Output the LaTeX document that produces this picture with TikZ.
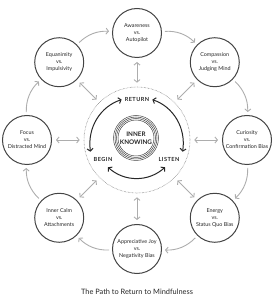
\documentclass[tikz,border=0pt]{standalone}
\usepackage{fontspec}
\setmainfont{Lato}
\usetikzlibrary{arrows.meta, positioning}
\definecolor{ringgray}{HTML}{444444}
\definecolor{linkgray}{HTML}{ADADAD}
\definecolor{inkdark}{HTML}{262626}

\begin{document}
\begin{tikzpicture}[
  x=1pt, y=1pt,
  every node/.style={font=\fontsize{5.4}{7}\selectfont, text=inkdark},
  stage/.style={draw=ringgray, line width=1pt, circle, minimum size=49pt, inner sep=0pt, align=center},
  flow/.style={draw=linkgray, line width=0.9pt, -{Straight Barb[length=2.5pt,width=6pt]}, shorten >=3pt, shorten <=3pt},
  link/.style={draw=linkgray, line width=0.9pt, {Straight Barb[length=2.5pt,width=6pt]}-{Straight Barb[length=2.5pt,width=6pt]}, shorten >=4pt, shorten <=4pt},
  cycle/.style={draw=inkdark, line width=1pt, {Straight Barb[length=2.5pt,width=6pt]}-{Straight Barb[length=2.5pt,width=6pt]}},
  phase/.style={font=\fontsize{5.6}{7}\selectfont\bfseries\addfontfeatures{LetterSpace=8}, inner sep=1pt}
]
\useasboundingbox (0,0) rectangle (274,300);
\coordinate (c) at (137,160);

% Outer stages
\node[stage] (aw) at ([shift={(90:107)}]c) {Awareness\\vs.\\Autopilot};
\node[stage] (co) at ([shift={(45:110)}]c) {Compassion\\vs.\\Judging Mind};
\node[stage] (cu) at ([shift={(0:110)}]c) {Curiosity\\vs.\\Confirmation Bias};
\node[stage] (en) at ([shift={(-45:110)}]c) {Energy\\vs.\\Status Quo Bias};
\node[stage] (aj) at ([shift={(-90:109)}]c) {Appreciative Joy\\vs.\\Negativity Bias};
\node[stage] (ic) at ([shift={(-135:110)}]c) {Inner Calm\\vs.\\Attachments};
\node[stage] (fo) at ([shift={(180:110)}]c) {Focus\\vs.\\Distracted Mind};
\node[stage] (eq) at ([shift={(135:110)}]c) {Equanimity\\vs.\\Impulsivity};

% Centre
\node[circle, draw=gray, line width=0.6pt, dash pattern=on 0.5pt off 0.9pt, minimum size=106pt] (ring) at (c) {};
\node[circle, draw=ringgray, line width=0.5pt, minimum size=36pt, inner sep=0pt, align=center,
  font=\fontsize{6.3}{8}\selectfont\bfseries] (ik) at ([shift={(-1,2)}]c) {INNER\\KNOWING};
\foreach \r in {19.5,21,22.5}
  \draw[ringgray, line width=0.5pt] (ik.center) circle (\r);

\node[phase] (ret) at ([shift={(90:41)}]c) {RETURN};
\node[phase] (beg) at ([shift={(-34,-19)}]c) {BEGIN};
\node[phase] (lis) at ([shift={(32,-19)}]c) {LISTEN};

% Inner cycle
\draw[cycle, shorten <=2pt] (ret.west) to[bend right=40] ([xshift=-2pt,yshift=4pt]beg.north west);
\draw[cycle, shorten <=2pt] (ret.east) to[bend left=40] ([xshift=2pt,yshift=4pt]lis.north east);
\draw[cycle] ([xshift=5pt,yshift=-5pt]beg.south) to[bend right=42] ([xshift=-4pt,yshift=-5pt]lis.south);

% Outer path
\draw[flow] (eq) to[bend left=24] (aw);
\draw[flow] (aw) to[bend left=24] (co);
\draw[flow] (co) to[bend left=24] (cu);
\draw[flow] (cu) to[bend left=24] (en);
\draw[flow] (en) to[bend left=24] (aj);
\draw[flow] (aj) to[bend left=24] (ic);
\draw[flow] (ic) to[bend left=24] (fo);
\draw[flow] (fo) to[bend left=24] (eq);

% Links to the centre
\draw[link] (aw) -- (ring.90);
\draw[link] (co) -- (ring.45);
\draw[link] (cu) -- (ring.0);
\draw[link] (en) -- (ring.-45);
\draw[link] (aj) -- (ring.-90);
\draw[link] (ic) -- (ring.-135);
\draw[link] (fo) -- (ring.180);
\draw[link] (eq) -- (ring.135);

\node[font=\fontsize{7.4}{9}\selectfont] (title) at (137,8) {The Path to Return to Mindfulness};
\end{tikzpicture}
\end{document}
